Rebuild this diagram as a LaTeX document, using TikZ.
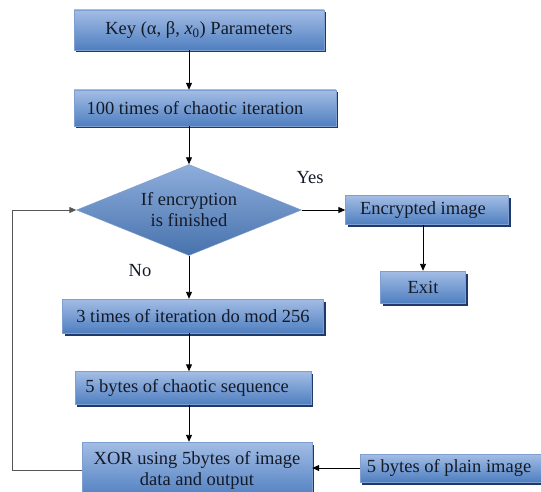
\documentclass[tikz,border=0pt]{standalone}
\usepackage{fontspec}
\setmainfont{Liberation Serif}
\usetikzlibrary{shapes.geometric,shadows,arrows.meta,positioning}
\definecolor{boxtop}{HTML}{A3BDE5}
\definecolor{boxbot}{HTML}{4F7FC0}
\definecolor{boxline}{HTML}{7E9FCF}
\definecolor{shade}{HTML}{1F3A6A}
\definecolor{loopgray}{HTML}{555555}
\definecolor{ink}{HTML}{141A28}

\begin{document}
\begin{tikzpicture}[x=1pt,y=-1pt,
    every node/.style={font=\fontsize{18.5}{21}\selectfont, text=ink, align=center, inner sep=0pt},
    stepbox/.style={rectangle, draw=boxline, top color=boxtop, bottom color=boxbot,
      drop shadow={shadow xshift=2pt, shadow yshift=-2.5pt, fill=shade, opacity=1}},
    decision/.style={diamond, aspect=2.5, draw=boxline, top color=boxtop!75!boxbot, bottom color=boxbot!90!black,
      minimum width=225pt, minimum height=91pt},
    flow/.style={line width=0.9pt, -{Triangle[length=7pt,width=6pt]}}]
  \clip (0,0) rectangle (541,492);
  \node[stepbox, minimum width=250pt, minimum height=40pt] (key) at (199,30)
    {Key (α, β, \textit{x}\textsubscript{0}) Parameters};
  \node[stepbox, minimum width=262pt, minimum height=36pt] (iter) at (205,108)
    {\hspace*{-20pt}100 times of chaotic iteration};
  \node[decision] (dec) at (189,210) {If encryption\\is finished};
  \node[stepbox, minimum width=163pt, minimum height=29pt] (enc) at (427,210)
    {\hspace*{-8pt}Encrypted image};
  \node[stepbox, minimum width=85pt, minimum height=32pt] (exit) at (423,287) {Exit};
  \node[stepbox, minimum width=261pt, minimum height=34pt] (mod) at (193,316)
    {3 times of iteration do mod 256};
  \node[stepbox, minimum width=236pt, minimum height=33pt] (seq) at (193,388)
    {\hspace*{-12pt}5 bytes of chaotic sequence};
  \node[stepbox, minimum width=230pt, minimum height=56pt] (xor) at (197,470)
    {XOR using 5bytes of image\\data and output};
  \node[stepbox, minimum width=200pt, minimum height=28pt] (plain) at (460,468)
    {\hspace*{-22pt}5 bytes of plain image};
  \node (yes) at (310,178) {Yes};
  \node (no) at (140,271) {No};
  \coordinate (loopx) at (12,0);

  \draw[flow] (key.south -| dec) -- (iter.north -| dec);
  \draw[flow] (iter.south -| dec) -- (dec.north);
  \draw[flow] (dec.east) -- (enc.west);
  \draw[flow] (enc.south -| exit) -- (exit.north);
  \draw[flow] (dec.south) -- (mod.north -| dec);
  \draw[flow] (mod.south -| dec) -- (seq.north -| dec);
  \draw[flow] (seq.south -| dec) -- (xor.north -| dec);
  \draw[flow] (plain.west) -- (plain.west -| xor.east);
  \draw[flow, draw=loopgray] (xor.west) -- (xor.west -| loopx) |- (dec.west);
\end{tikzpicture}
\end{document}
